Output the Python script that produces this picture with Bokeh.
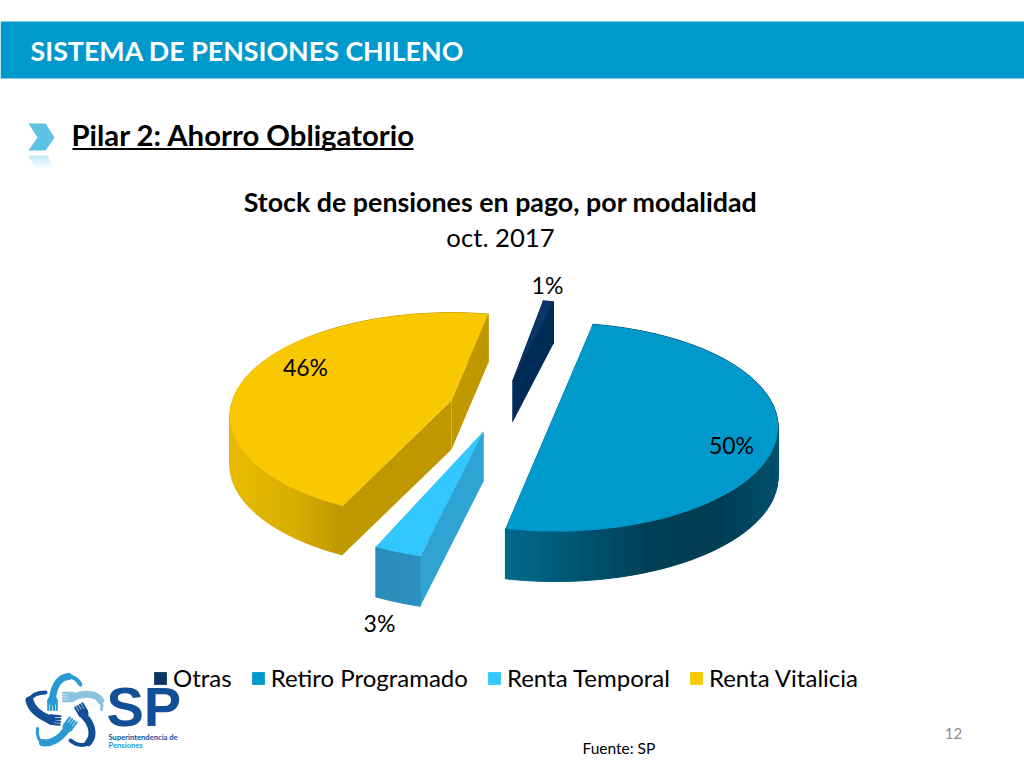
import math
from bokeh.plotting import figure
from bokeh.models import Range1d, Legend, LegendItem
from bokeh.core.properties import value
from bokeh.embed import file_html
from bokeh.resources import INLINE

# ---- data ----
categories = ["Otras", "Retiro Programado", "Renta Temporal", "Renta Vitalicia"]
values = [1, 50, 3, 46]
top_colors = ["#0B3563", "#0099CC", "#33C7FF", "#F9C800"]
cut_colors = ["#012B57", "#00506C", "#2FA3D2", "#BF9800"]
rim_stops = [
    [(510, "#012B57"), (555, "#012B57")],
    [(506, "#006A8C"), (560, "#005A78"), (650, "#003F56"), (720, "#003D54"), (777, "#00506C")],
    [(376, "#2A8DBB"), (422, "#2B8FBF")],
    [(230, "#E6BC00"), (290, "#D9AF00"), (340, "#BF9800")],
]

# ---- pie layout (pixels of the slide) ----
FIRST_ANGLE = 12.6
PERSPECTIVE = 0.15
apex = [(512, 380), (555, 411), (483, 431), (451, 400)]
semi_x = [194, 220, 220, 219]
semi_y = [93, 102, 110, 101]
nudge = [-2.2, -5, -2, -1.5]
depth = [42, 50, 50, 49]
label_pos = [(547, 284), (731, 444), (379, 622), (305, 366)]

W, H = 1024, 768
p = figure(width=W, height=H, output_backend="svg", toolbar_location=None,
           x_range=Range1d(0, W), y_range=Range1d(H, 0),
           min_border=0, outline_line_color=None)
p.axis.visible = False
p.grid.visible = False
p.xaxis.visible = False
p.yaxis.visible = False


def txt(x, y, s, size, color="#000000", style="normal", align="left", font="Lato", baseline="middle"):
    p.text(x=[x], y=[y], text=[s], text_font=value(font), text_font_size=f"{size}px",
           text_font_style=style, text_color=color, text_align=align, text_baseline=baseline)


def hex2rgb(h):
    return tuple(int(h[i:i + 2], 16) for i in (1, 3, 5))


def grad(stops, x):
    if x <= stops[0][0]:
        return stops[0][1]
    for (x0, c0), (x1, c1) in zip(stops, stops[1:]):
        if x <= x1:
            f = (x - x0) / (x1 - x0)
            a, b = hex2rgb(c0), hex2rgb(c1)
            return "#%02x%02x%02x" % tuple(round(a[i] + (b[i] - a[i]) * f) for i in range(3))
    return stops[-1][1]


def proj(i, r, deg):
    th = math.radians(deg)
    u, v = r * math.sin(th), r * math.cos(th)
    w = 1 + PERSPECTIVE * v
    return apex[i][0] + semi_x[i] * u / w, apex[i][1] - semi_y[i] * v / w


# ---- header ----
p.quad(left=[0], right=[1024], top=[21], bottom=[78], fill_color="#0099CC", line_color=None)
txt(30, 50, "SISTEMA DE PENSIONES CHILENO", 26.8, "#FFFFFF", "bold")
p.patch([28, 45, 54, 45, 28, 37], [123, 123, 137, 150, 150, 137], fill_color="#5CC3E6", line_color=None)
for k, al in enumerate([0.35, 0.28, 0.2, 0.13, 0.07]):
    y0 = 155 + 2.5 * k
    p.quad(left=[28 + 1.6 * k], right=[48 + 1.0 * k], top=[y0], bottom=[y0 + 2.5], fill_color="#5CC3E6",
           fill_alpha=al, line_color=None)
txt(71, 134, "Pilar 2: Ahorro Obligatorio", 29.3, "#000000", "bold")
p.line([72, 413], [148.5, 148.5], line_color="#000000", line_width=2)
txt(500, 201, "Stock de pensiones en pago, por modalidad", 26.8, "#000000", "bold", "center")
txt(500, 236, "oct. 2017", 25.7, "#000000", "normal", "center")

# ---- pie ----
legend_items = []
start = FIRST_ANGLE
for i, val in enumerate(values):
    span = val * 3.6
    a0, a1 = start + nudge[i], start + nudge[i] + span
    start += span
    n = max(4, int(span / 1.5))
    angles = [a0 + (a1 - a0) * j / n for j in range(n + 1)]
    rim = [proj(i, 1, a) for a in angles]
    d = depth[i]
    # cut faces
    ax, ay = apex[i]
    for (ex, ey) in (rim[0], rim[-1]):
        p.patch([ax, ex, ex, ax], [ay, ey, ey + d, ay + d], fill_color=cut_colors[i], line_color=None)
    # outer wall in strips
    xs, ys, cs = [], [], []
    for (x0, y0), (x1, y1) in zip(rim, rim[1:]):
        xs.append([x0, x1, x1, x0])
        ys.append([y0, y1, y1 + d, y0 + d])
        cs.append(grad(rim_stops[i], (x0 + x1) / 2))
    p.patches(xs, ys, fill_color=cs, line_color=cs, line_width=1)
    # top face
    r = p.patch([ax] + [q[0] for q in rim], [ay] + [q[1] for q in rim],
                fill_color=top_colors[i], line_color=None)
    legend_items.append(LegendItem(label=categories[i], renderers=[r]))

for (lx, ly), val in zip(label_pos, values):
    txt(lx, ly, f"{val}%", 23, "#000000", "normal", "center")

legend = Legend(items=legend_items, orientation="horizontal", location=(152, 76),
                background_fill_alpha=0, border_line_color=None, padding=0, margin=0,
                spacing=18, glyph_width=16, glyph_height=16, label_standoff=5,
                label_text_font="Lato", label_text_font_size="24px", label_text_color="#000000",
                label_height=22)
p.add_layout(legend, "center")

# ---- logo ----
MID, PALE, DARK = "#2A9BD0", "#8CC4E0", "#124F96"
arms = [
    (MID, 7, [52, 54, 58, 68], [697, 685, 677, 676]),
    (MID, 4, [68, 73, 77, 80], [676, 676, 679, 684]),
    (PALE, 7, [72, 85, 96, 100], [697, 692, 693, 700]),
    (PALE, 3, [100, 102, 102, 101], [700, 704, 706, 709]),
    (DARK, 7, [84, 92, 94, 88], [716, 724, 735, 742]),
    (DARK, 4, [88, 84, 76, 70], [742, 746, 745, 740]),
    (MID, 7, [66, 60, 50, 42], [729, 738, 744, 742]),
    (MID, 3, [42, 38, 36, 37], [742, 740, 734, 728]),
    (DARK, 8, [47, 38, 31, 29], [718, 714, 708, 700]),
    (DARK, 4, [29, 31, 37, 45], [700, 695, 692, 692]),
]
for c, w, bx, by in arms:
    p.bezier(x0=[bx[0]], y0=[by[0]], cx0=[bx[1]], cy0=[by[1]], cx1=[bx[2]], cy1=[by[2]],
             x1=[bx[3]], y1=[by[3]], line_color=c, line_width=w, line_cap="round")
hands = [
    (MID, 52, 700, 0.0, 1.0),
    (PALE, 72, 696.5, -1.0, 0.0),
    (DARK, 83, 713, -0.5, -0.85),
    (MID, 67, 727, 0.6, -0.8),
    (DARK, 50, 719, 1.0, 0.1),
]
for c, hx, hy, dx, dy in hands:
    p.circle(x=[hx], y=[hy], radius=5, fill_color=c, line_color=None)
    for o in (-4.2, -1.4, 1.4, 4.2):
        sx, sy = hx - dy * o, hy + dx * o
        p.segment(x0=[sx], y0=[sy], x1=[sx + dx * 9.5], y1=[sy + dy * 9.5], line_color=c, line_width=2.2,
                  line_cap="round")
txt(106, 706, "SP", 56, DARK, "bold", font="Liberation Sans")
txt(108, 736, "Superintendencia de", 7.6, DARK, "bold")
txt(108, 744, "Pensiones", 7.6, MID, "bold")

txt(953, 733, "12", 15, "#8C8C8C", "normal", "center")
txt(582, 747, "Fuente: SP", 15.5, "#000000")

open("out.html", "w").write(file_html(p, INLINE))
